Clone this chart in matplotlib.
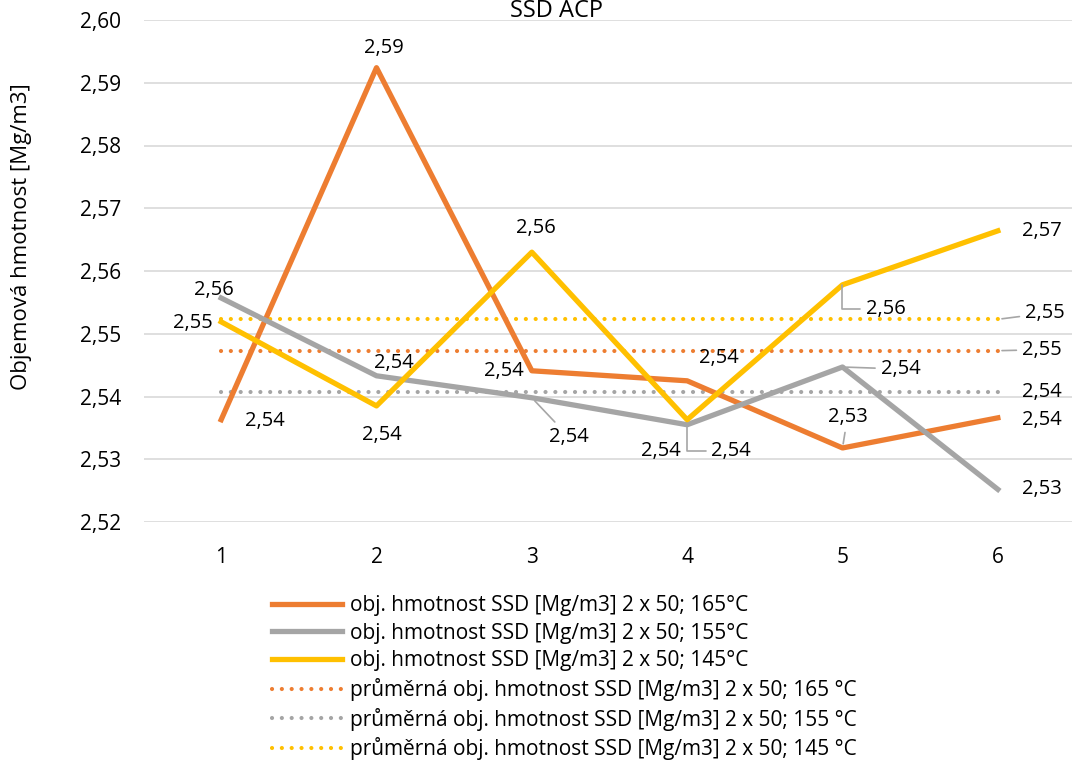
import matplotlib.pyplot as plt

plt.rcParams['font.family'] = ['Open Sans', 'DejaVu Sans']

x = [1, 2, 3, 4, 5, 6]
hmot_165 = [2.5363, 2.5924, 2.5441, 2.5425, 2.5318, 2.5366]
hmot_155 = [2.5557, 2.5433, 2.5398, 2.5355, 2.5447, 2.5252]
hmot_145 = [2.5519, 2.5385, 2.5630, 2.5363, 2.5578, 2.5664]
prum_165 = [2.5473] * 6
prum_155 = [2.5407] * 6
prum_145 = [2.5523] * 6

names = [
    'obj. hmotnost SSD [Mg/m3] 2 x 50; 165°C',
    'obj. hmotnost SSD [Mg/m3] 2 x 50; 155°C',
    'obj. hmotnost SSD [Mg/m3] 2 x 50; 145°C',
    'průměrná obj. hmotnost SSD [Mg/m3] 2 x 50; 165 °C',
    'průměrná obj. hmotnost SSD [Mg/m3] 2 x 50; 155 °C',
    'průměrná obj. hmotnost SSD [Mg/m3] 2 x 50; 145 °C',
]

c_or = '#ED7D31'
c_gr = '#A5A5A5'
c_ye = '#FFC000'

fig = plt.figure(figsize=(10.72, 7.6), dpi=100)
ax = fig.add_axes([143.5 / 1072, 1 - 522 / 760, 932 / 1072, 502 / 760])

dots = (0, (0.01, 2.35))
ax.plot(x, hmot_165, color=c_or, lw=3.8, label=names[0], zorder=4)
ax.plot(x, hmot_155, color=c_gr, lw=3.8, label=names[1], zorder=4)
ax.plot(x, hmot_145, color=c_ye, lw=3.8, label=names[2], zorder=4)
ax.plot(x, prum_165, color=c_or, lw=3, ls=dots, dash_capstyle='round', label=names[3], zorder=3)
ax.plot(x, prum_155, color=c_gr, lw=3, ls=dots, dash_capstyle='round', label=names[4], zorder=3)
ax.plot(x, prum_145, color=c_ye, lw=3, ls=dots, dash_capstyle='round', label=names[5], zorder=3)

ax.set_xlim(0.5, 6.5)
ax.set_ylim(2.52, 2.60)
ax.set_yticks([2.52 + i * 0.01 for i in range(9)])
ax.set_yticklabels([f'{2.52 + i * 0.01:.2f}'.replace('.', ',') for i in range(9)])
ax.set_xticks(x)
ax.tick_params(length=0, labelsize=15, colors='#000000')
ax.tick_params(axis='y', pad=16)
ax.tick_params(axis='x', pad=18)
ax.grid(axis='y', color='#D9D9D9', lw=1.2)
ax.set_axisbelow(True)
for s in ax.spines.values():
    s.set_visible(False)


def fmt(v):
    return f'{v:.2f}'.replace('.', ',')


# popisky hodnot: posun v px od bodu, pripadne vodici cara
lead = dict(arrowstyle='-', color='#A6A6A6', lw=1.2, shrinkA=2, shrinkB=3)
lead_l = dict(lead, connectionstyle='angle,angleA=0,angleB=90', shrinkB=0)
popisky = [
    (hmot_165, [(44, -1), (7, 20), (-28, 0), (32, 23), (5, 31), (44, -2)], {4: lead}),
    (hmot_155, [(-7, 8), (17, 13), (37, -39), (44, -26), (58, -2), (44, 0)], {2: lead, 3: lead_l, 4: lead}),
    (hmot_145, [(-28, -1), (5, -29), (4, 24), (-26, -31), (43, -24), (44, 0)], {4: lead_l}),
]
for serie, offs, leaders in popisky:
    for i, (xi, yi) in enumerate(zip(x, serie)):
        ax.annotate(fmt(yi), (xi, yi), xytext=offs[i], textcoords='offset pixels',
                    ha='center', va='center', fontsize=14.5, zorder=6,
                    arrowprops=leaders.get(i))

for serie, off, ld in [(prum_145, (47, 6), lead), (prum_165, (44, 1), lead), (prum_155, (44, 0), None)]:
    ax.annotate(fmt(serie[-1]), (x[-1], serie[-1]), xytext=off, textcoords='offset pixels',
                ha='center', va='center', fontsize=14.5, zorder=6, arrowprops=ld)

fig.text(557 / 1072, 1 - 17 / 760, 'SSD ACP', ha='center', va='baseline', fontsize=17)
fig.text(22 / 1072, 1 - 237 / 760, 'Objemová hmotnost [Mg/m3]', rotation=90,
         ha='center', va='center', fontsize=16)

fig.legend(loc='upper left', bbox_to_anchor=(272 / 1072, 1 - 595 / 760), frameon=False,
           fontsize=15, handlelength=3.37, handletextpad=0.38, labelspacing=0.32,
           borderaxespad=0, borderpad=0)

fig.savefig('out.png', dpi=100)
